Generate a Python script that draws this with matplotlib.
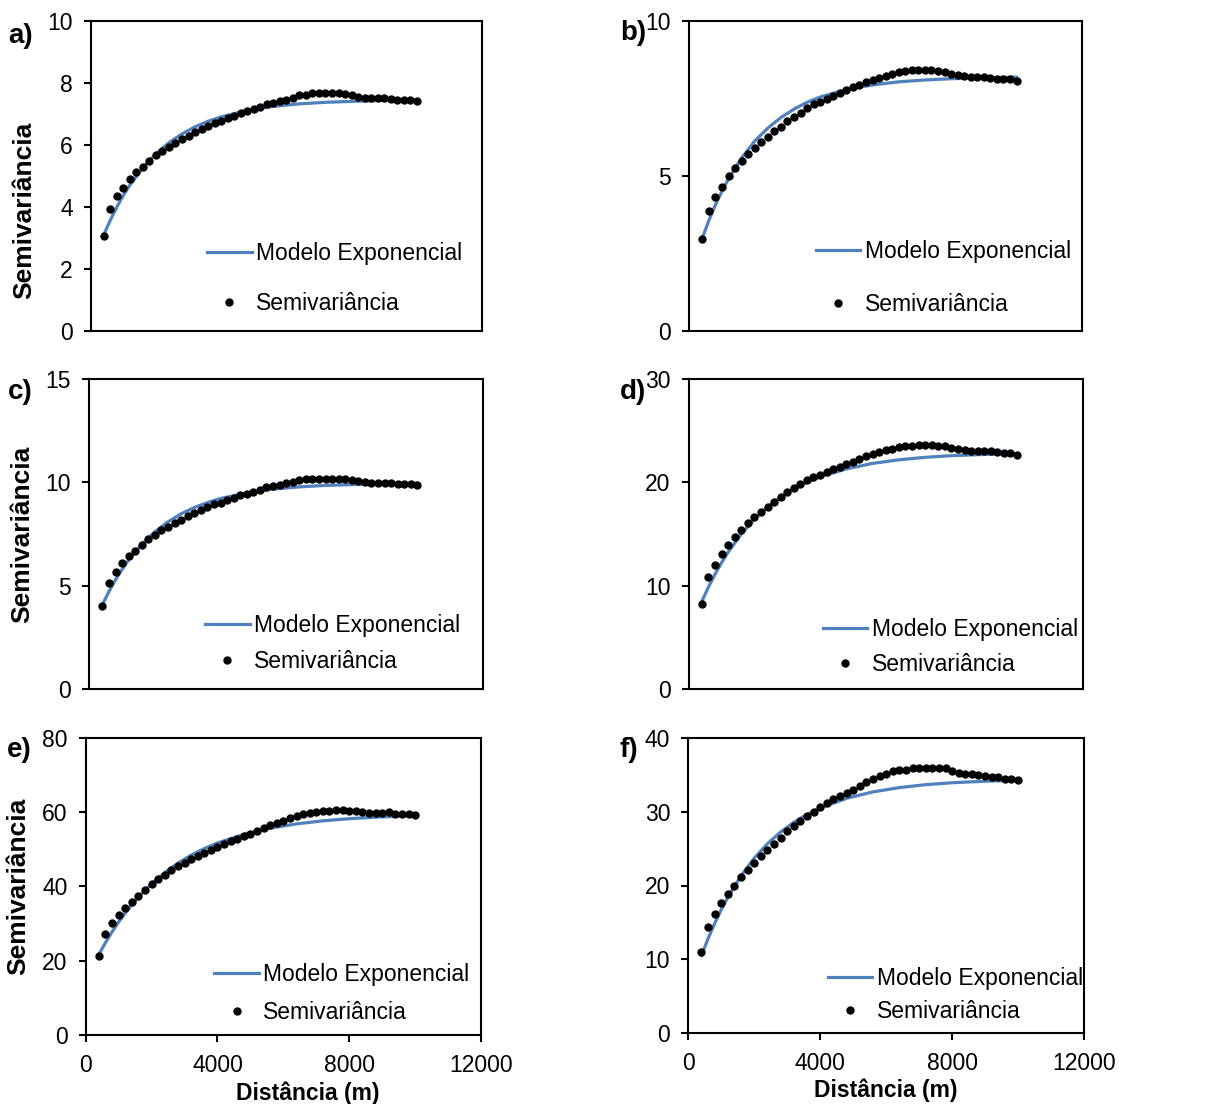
import matplotlib
matplotlib.use("Agg")
import matplotlib.pyplot as plt

plt.rcParams["font.family"] = ["Liberation Sans", "DejaVu Sans"]

# lag distances (m) of the experimental semivariogram
lags = [400, 600, 800, 1000, 1200, 1400, 1600, 1800, 2000, 2200,
        2400, 2600, 2800, 3000, 3200, 3400, 3600, 3800, 4000, 4200,
        4400, 4600, 4800, 5000, 5200, 5400, 5600, 5800, 6000, 6200,
        6400, 6600, 6800, 7000, 7200, 7400, 7600, 7800, 8000, 8200,
        8400, 8600, 8800, 9000, 9200, 9400, 9600, 9800, 10000]

# distances where the fitted model curve was read
model_lags = [400, 600, 800, 1000, 1200, 1600, 2000, 2400, 2800, 3200,
              3600, 4000, 4800, 5600, 6400, 7200, 8000, 9000, 10000]

semi_a = [3.07, 3.92, 4.35, 4.62, 4.90, 5.11, 5.30, 5.48, 5.67, 5.81,
          5.94, 6.07, 6.19, 6.30, 6.41, 6.51, 6.62, 6.71, 6.78, 6.85,
          6.94, 7.02, 7.09, 7.16, 7.23, 7.30, 7.36, 7.41, 7.45, 7.50,
          7.59, 7.60, 7.68, 7.66, 7.67, 7.67, 7.67, 7.65, 7.59, 7.55,
          7.52, 7.51, 7.50, 7.50, 7.48, 7.44, 7.44, 7.43, 7.40]
model_a = [3.10, 3.57, 3.99, 4.37, 4.70, 5.26, 5.71, 6.07, 6.35, 6.58,
           6.76, 6.90, 7.11, 7.24, 7.32, 7.37, 7.40, 7.43, 7.44]

semi_b = [2.95, 3.86, 4.31, 4.64, 4.99, 5.25, 5.49, 5.69, 5.91, 6.10,
          6.26, 6.43, 6.58, 6.77, 6.90, 7.04, 7.19, 7.30, 7.37, 7.48,
          7.58, 7.68, 7.77, 7.85, 7.92, 8.03, 8.10, 8.16, 8.22, 8.28,
          8.36, 8.38, 8.42, 8.41, 8.41, 8.41, 8.39, 8.35, 8.28, 8.24,
          8.23, 8.20, 8.18, 8.18, 8.16, 8.13, 8.12, 8.11, 8.07]
model_b = [3.00, 3.57, 4.07, 4.51, 4.91, 5.58, 6.12, 6.54, 6.88, 7.15,
           7.37, 7.54, 7.78, 7.93, 8.03, 8.09, 8.13, 8.16, 8.18]

semi_c = [4.03, 5.14, 5.67, 6.09, 6.43, 6.70, 6.98, 7.25, 7.46, 7.67,
          7.85, 8.02, 8.18, 8.36, 8.51, 8.65, 8.83, 8.93, 9.02, 9.13,
          9.26, 9.38, 9.44, 9.52, 9.63, 9.75, 9.83, 9.89, 9.96, 10.04,
          10.12, 10.18, 10.18, 10.18, 10.18, 10.18, 10.18, 10.17, 10.12, 10.07,
          10.04, 9.99, 9.97, 9.97, 9.97, 9.94, 9.92, 9.92, 9.89]
model_c = [4.08, 4.72, 5.29, 5.79, 6.24, 7.00, 7.61, 8.09, 8.48, 8.78,
           9.02, 9.22, 9.49, 9.67, 9.78, 9.85, 9.89, 9.93, 9.95]

semi_d = [8.25, 10.80, 11.99, 13.05, 13.95, 14.70, 15.34, 16.02, 16.60, 17.11,
          17.63, 18.11, 18.59, 19.05, 19.47, 19.85, 20.21, 20.50, 20.75, 21.04,
          21.33, 21.53, 21.75, 22.01, 22.24, 22.53, 22.75, 22.95, 23.11, 23.27,
          23.46, 23.49, 23.56, 23.59, 23.59, 23.59, 23.53, 23.49, 23.30, 23.20,
          23.14, 23.07, 23.04, 23.04, 23.01, 22.91, 22.82, 22.82, 22.69]
model_d = [8.48, 9.85, 11.10, 12.22, 13.24, 14.99, 16.42, 17.60, 18.56, 19.34,
           19.99, 20.52, 21.30, 21.83, 22.18, 22.42, 22.58, 22.70, 22.78]

semi_e = [21.3, 27.1, 30.1, 32.2, 34.1, 35.9, 37.5, 39.1, 40.5, 42.0,
          43.1, 44.3, 45.4, 46.4, 47.3, 48.3, 49.1, 49.9, 50.6, 51.4,
          52.2, 52.8, 53.5, 54.2, 54.9, 55.6, 56.4, 57.0, 57.7, 58.3,
          58.9, 59.4, 59.7, 60.0, 60.3, 60.4, 60.5, 60.5, 60.3, 60.2,
          60.0, 59.8, 59.8, 59.8, 59.9, 59.6, 59.6, 59.5, 59.2]
model_e = [21.70, 24.85, 27.75, 30.40, 32.83, 37.11, 40.70, 43.72, 46.25, 48.38,
           50.17, 51.68, 54.00, 55.65, 56.81, 57.63, 58.21, 58.70, 59.02]

semi_f = [10.9, 14.3, 16.1, 17.6, 18.9, 20.0, 21.1, 22.1, 23.0, 24.0,
          24.8, 25.7, 26.5, 27.4, 28.1, 28.8, 29.5, 30.0, 30.6, 31.2,
          31.7, 32.2, 32.6, 33.0, 33.5, 34.1, 34.5, 34.9, 35.2, 35.5,
          35.7, 35.7, 36.0, 35.9, 36.0, 36.0, 35.9, 35.9, 35.6, 35.3,
          35.2, 35.1, 35.0, 34.9, 34.8, 34.7, 34.5, 34.5, 34.3]
model_f = [10.50, 12.79, 14.85, 16.72, 18.41, 21.33, 23.72, 25.67, 27.27, 28.58,
           29.66, 30.53, 31.84, 32.72, 33.30, 33.70, 33.96, 34.17, 34.30]

panel_letters = ["a)", "b)", "c)", "d)", "e)", "f)"]
y_ticks = [[0, 2, 4, 6, 8, 10], [0, 5, 10], [0, 5, 10, 15],
           [0, 10, 20, 30], [0, 20, 40, 60, 80], [0, 10, 20, 30, 40]]
x_ticks = [0, 4000, 8000, 12000]

LINE_COLOR = "#4f81bd"
W, H = 1211, 1104

fig = plt.figure(figsize=(W / 100, H / 100), dpi=100)


def px_axes(left, top, right, bottom):
    return fig.add_axes([left / W, 1 - bottom / H, (right - left) / W, (bottom - top) / H])


# axes boxes in pixels: left, top, right, bottom
boxes = [(90.7, 20.7, 482, 331), (689.3, 20.7, 1082, 331),
         (89.3, 379, 483, 689), (688.7, 379, 1082.7, 689),
         (85.7, 737.7, 481, 1035), (688.3, 738.3, 1084, 1032.7)]
# legend anchor (axes fraction) and row spacing
legend_pos = [(0.297, 0.169, 1.15), (0.322, 0.172, 1.3), (0.294, 0.147, 0.55),
              (0.34, 0.135, 0.55), (0.325, 0.141, 0.65), (0.352, 0.128, 0.45)]
# letter position in pixels (left, centre y)
letter_pos = [(8, 36), (620, 33), (8, 392), (620, 392), (7, 750), (619, 750)]

semis = [semi_a, semi_b, semi_c, semi_d, semi_e, semi_f]
models = [model_a, model_b, model_c, model_d, model_e, model_f]

for i in range(6):
    ax = px_axes(*boxes[i])
    ax.plot(model_lags, models[i], color=LINE_COLOR, lw=2.3, zorder=2,
            label="Modelo Exponencial")
    ax.plot(lags, semis[i], "o", color="black", ms=5, zorder=3,
            label="Semivariância")

    ax.set_xlim(0, 12000)
    ax.set_ylim(y_ticks[i][0], y_ticks[i][-1])
    ax.set_yticks(y_ticks[i])
    ax.set_xticks(x_ticks)
    for s in ax.spines.values():
        s.set_linewidth(1.5)
        s.set_color("black")
    ax.tick_params(axis="y", direction="out", length=5, width=1.5,
                   labelsize=16.5, pad=8)
    bottom_row = i >= 4
    if bottom_row:
        ax.tick_params(axis="x", direction="out", length=5, width=1.5,
                       labelsize=16.5, pad=9)
        ax.set_xlabel("Distância (m)", fontsize=16.5, fontweight="bold")
        ax.xaxis.set_label_coords(0.562 if i == 4 else 0.5, -0.155)
    else:
        ax.tick_params(axis="x", length=0, labelbottom=False)

    if i % 2 == 0:
        ax.set_ylabel("Semivariância", fontsize=19, fontweight="bold")
        ax.yaxis.set_label_coords(-0.14, 0.39 if i == 0 else 0.5)

    lx, ly, sp = legend_pos[i]
    ax.legend(loc="center left", bbox_to_anchor=(lx, ly), frameon=False,
              fontsize=16.5, handlelength=1.95, handletextpad=0.2,
              borderpad=0, borderaxespad=0, labelspacing=sp, numpoints=1)

    px, py = letter_pos[i]
    fig.text(px / W, 1 - py / H, panel_letters[i], fontsize=20,
             fontweight="bold", ha="left", va="center")

fig.savefig("out.png", dpi=100)
